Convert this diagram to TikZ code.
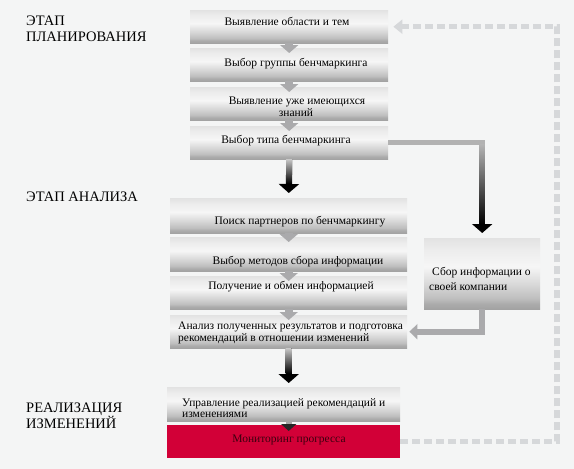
\documentclass[tikz,border=0pt]{standalone}
\usepackage{fontspec}
\setmainfont{Liberation Serif}
\newfontfamily\myserif{Liberation Serif}
\usetikzlibrary{arrows.meta,calc}
\definecolor{bg}{RGB}{244,245,245}
\definecolor{sT}{RGB}{226,226,226}
\definecolor{sA}{RGB}{236,236,236}
\definecolor{sB}{RGB}{246,246,246}
\definecolor{sC}{RGB}{216,216,216}
\definecolor{sD}{RGB}{190,190,190}
\definecolor{sE}{RGB}{172,172,172}
\definecolor{sF}{RGB}{162,162,162}
\definecolor{arrgrey}{RGB}{170,170,172}
\definecolor{dashgrey}{RGB}{214,216,218}
\definecolor{redbox}{RGB}{210,0,55}
\definecolor{redtext}{RGB}{60,0,15}
\pgfdeclareverticalshading{boxshade}{100bp}{color(0bp)=(sF); color(25bp)=(sF); color(29bp)=(sE); color(32.5bp)=(sD); color(42.5bp)=(sC); color(55bp)=(sB); color(67.5bp)=(sA); color(75bp)=(sT); color(100bp)=(sT)}
\tikzset{
  box/.style={shading=boxshade, rectangle, inner sep=0pt, anchor=north west},
  redrect/.style={fill=redbox, rectangle, inner sep=0pt, anchor=north west},
  phase/.style={font=\myserif\fontsize{14.5}{16}\selectfont, anchor=base west, inner sep=0pt},
  btext/.style={font=\myserif\fontsize{11.5}{12}\selectfont, anchor=base, inner sep=0pt},
  btextl/.style={font=\myserif\fontsize{11.5}{12}\selectfont, anchor=base west, inner sep=0pt},
  smallarr/.style={draw=arrgrey, line width=8pt, -{Triangle[width=18pt,length=8pt]}, shorten >=-5pt},
  darkarr/.style={draw=black, line width=6pt, -{Triangle[width=20pt,length=9pt]}},
  loopline/.style={draw=dashgrey, line width=5.5pt, dash pattern=on 8pt off 4pt, -{Triangle[width=14pt,length=9pt]}},
}
\begin{document}
\begin{tikzpicture}[x=1pt,y=-1pt]
\fill[bg] (0,0) rectangle (574,469);
\useasboundingbox (0,0) rectangle (574,469);

% phase labels
\node[phase] (lp1) at (26,25) {ЭТАП};
\node[phase] (lp2) at (26,41) {ПЛАНИРОВАНИЯ};
\node[phase] (la1) at (26,201) {ЭТАП АНАЛИЗА};
\node[phase] (lr1) at (26,412) {РЕАЛИЗАЦИЯ};
\node[phase] (lr2) at (26,428) {ИЗМЕНЕНИЙ};

% boxes
\node[box, minimum width=198pt, minimum height=33pt] (b1) at (190,10) {};
\node[box, minimum width=198pt, minimum height=33pt] (b2) at (190,48) {};
\node[box, minimum width=198pt, minimum height=33pt] (b3) at (190,87) {};
\node[box, minimum width=198pt, minimum height=33pt] (b4) at (190,126) {};
\node[box, minimum width=237pt, minimum height=35pt] (b5) at (170,198) {};
\node[box, minimum width=237pt, minimum height=34pt] (b6) at (170,237) {};
\node[box, minimum width=237pt, minimum height=33pt] (b7) at (170,276) {};
\node[box, minimum width=237pt, minimum height=33pt] (b8) at (170,315) {};
\node[box, minimum width=116pt, minimum height=71pt] (r) at (424,238) {};
\node[box, minimum width=233pt, minimum height=34pt] (b9) at (167,387) {};
\node[redrect, minimum width=233pt, minimum height=33pt] (rd) at (167,425) {};

% small grey arrows
\draw[smallarr] (b1.south) -- (b2.north);
\draw[smallarr] (b2.south) -- (b3.north);
\draw[smallarr] (b3.south) -- (b4.north);
\draw[smallarr] (b5.south) -- (b6.north);
\draw[smallarr] (b6.south) -- (b7.north);
\draw[smallarr] (b7.south) -- (b8.north);

% dark arrows
\draw[darkarr, shorten >=5pt] (b4.south) -- (b5.north);
\shade[top color=gray!45, bottom color=black] ($(b4.south)+(-3,0)$) rectangle ($(b4.south)+(3,24)$);
\draw[darkarr, shorten >=4pt] (b8.south) -- (b8.south |- b9.north);
\shade[top color=gray!45, bottom color=black] ($(b8.south)+(-3,0)$) rectangle ($(b8.south)+(3,25)$);
\draw[draw=gray!70, line width=6pt, -{Triangle[width=15pt,length=7pt,black!85]}, shorten >=-6pt] (b8.south |- b9.south) -- (b8.south |- rd.north);

% side arrows
\draw[draw=gray!60, line width=5pt, -{Triangle[width=20pt,length=9pt,black]}, shorten >=5pt] (b4.east) -| (r.north);
\shade[top color=gray!60, bottom color=black] ($(b4.east -| r.north)+(-2.5,2)$) rectangle ($(r.north)+(2.5,-14)$);
\draw[draw=arrgrey, line width=6pt, -{Triangle[width=15pt,length=8pt]}, shorten >=2pt] (r.south) |- (b8.east);

% dashed feedback loop
\coordinate (lx) at (557,200);
\draw[loopline, shorten >=5pt] (rd.east) -- (rd.east -| lx) -- (b1.east -| lx) -- (b1.east);

% texts
\node[btext] (t1) at (287,25) {Выявление области и тем};
\node[btext] (t2) at (296,66) {Выбор группы бенчмаркинга};
\node[btext] (t3a) at (297,104) {Выявление уже имеющихся};
\node[btext] (t3b) at (296,116) {знаний};
\node[btext] (t4) at (286,143) {Выбор типа бенчмаркинга};
\node[btext] (t5) at (300,224) {Поиск партнеров по бенчмаркингу};
\node[btext] (t6) at (298,264) {Выбор методов сбора информации};
\node[btext] (t7) at (291,289) {Получение и обмен информацией};
\node[btextl] (t8a) at (178,329) {Анализ полученных результатов и подготовка};
\node[btextl] (t8b) at (178,341) {рекомендаций в отношении изменений};
\node[btextl] (tr1) at (432,275) {Сбор информации о};
\node[btextl] (tr2) at (429,290) {своей компании};
\node[btextl] (t9a) at (182,406) {Управление реализацией рекомендаций и};
\node[btextl] (t9b) at (182,417) {изменениями};
\node[btext, text=redtext] (trd) at (289,442) {Мониторинг прогресса};
\end{tikzpicture}
\end{document}
